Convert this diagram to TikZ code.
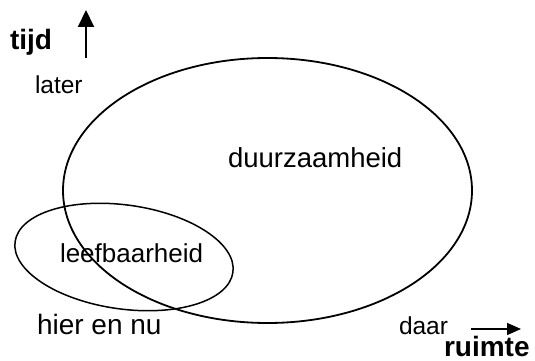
\documentclass[tikz,border=0pt]{standalone}
\usepackage{fontspec}
\setmainfont{Liberation Sans}
\usetikzlibrary{shapes.geometric,arrows.meta}
\begin{document}
\begin{tikzpicture}[x=1pt,y=-1pt,
  lbl/.style={inner sep=0pt,outer sep=0pt,anchor=base west,font=\fontsize{27.5}{30}\selectfont},
  small/.style={lbl,font=\fontsize{24.5}{26}\selectfont},
  axis/.style={lbl,font=\fontsize{28}{30}\selectfont\bfseries},
  area/.style={draw,ellipse,inner sep=0pt,outer sep=0pt}
]
\useasboundingbox (0,0) rectangle (535,361);

% the two areas
\node[area,line width=1.8pt,minimum width=409pt,minimum height=265pt] (duur) at (267.5,190.5) {};
\node[area,line width=1.5pt,minimum width=220pt,minimum height=104pt,rotate=-8] (leef) at (124,257) {};

% labels
\node[lbl] (tduur) at (228,167) {duurzaamheid};
\node[lbl,font=\fontsize{26}{30}\selectfont] (tleef) at (60,262) {leefbaarheid};
\node[lbl,font=\fontsize{28}{30}\selectfont] (hier) at (37,334) {hier en nu};
\node[small] (later) at (35,93) {later};
\node[small] (daar) at (399,334) {daar};
\node[axis] (tijd) at (10,49) {tijd};
\node[axis] (ruimte) at (444,356) {ruimte};

% axis arrows
\coordinate (t0) at (86,58);
\coordinate (t1) at (86,10);
\coordinate (r0) at (471,329);
\coordinate (r1) at (521,329);
\draw[line width=2pt,-{Triangle[length=17pt,width=16pt]}] (t0) -- (t1);
\draw[line width=1.5pt,-{Triangle[length=14pt,width=12pt]}] (r0) -- (r1);
\end{tikzpicture}
\end{document}
